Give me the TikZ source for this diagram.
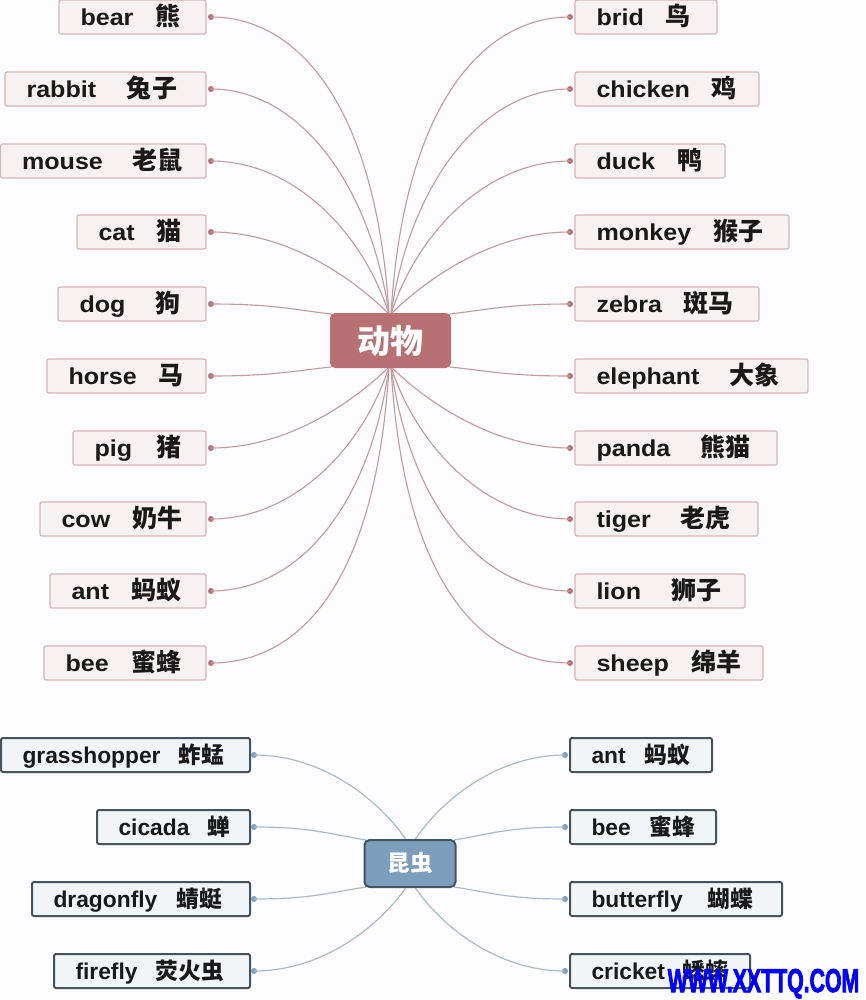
\documentclass[tikz,border=0pt]{standalone}
\usepackage{fontspec}
\usepackage{graphicx}
\setmainfont{Liberation Sans}
\newfontfamily\cjk{Noto Sans CJK SC}
\newfontfamily\widefont{Liberation Sans}[FakeStretch=1.09]
\newfontfamily\markfont{Liberation Sans}[FakeBold=3]
\definecolor{bgc}{HTML}{FDFCFE}
\definecolor{redline}{HTML}{C49A9C}
\definecolor{reddot}{HTML}{B87478}
\definecolor{redfill}{HTML}{F8F1F1}
\definecolor{redborder}{HTML}{D9B4B6}
\definecolor{redhub}{HTML}{B87173}
\definecolor{blueline}{HTML}{A9BBC9}
\definecolor{bluedot}{HTML}{7FA0BC}
\definecolor{bluefill}{HTML}{F2F5F8}
\definecolor{blueborder}{HTML}{43535F}
\definecolor{bluehub}{HTML}{7C9DBB}
\tikzset{
  leafbase/.style={rectangle,rounded corners=2pt,inner sep=0pt,minimum height=34pt,text height=22.5pt,text depth=5pt,text=black!90},
  redleaf/.style={leafbase,draw=redborder,fill=redfill,line width=1.2pt,font=\widefont\bfseries\fontsize{23}{28}\selectfont,execute at begin node={\def\lcj{\fontsize{25}{28}\selectfont}}},
  blueleaf/.style={leafbase,draw=blueborder,fill=bluefill,line width=2pt,font=\bfseries\fontsize{22.8}{28}\selectfont,execute at begin node={\def\lcj{}}},
  reddotst/.style={circle,fill=reddot,inner sep=0pt,minimum size=6pt},
  bluedotst/.style={circle,fill=bluedot,inner sep=0pt,minimum size=6pt},
  redlink/.style={draw=redline,line width=1.1pt},
  bluelink/.style={draw=blueline,line width=1.2pt},
}
% style, name, x1, x2, y, cjk right end, latin, cjk
\newcommand{\leafbox}[8]{%
  \pgfmathsetmacro\lfw{#4-#3}%
  \pgfmathsetmacro\lfc{(#3+#4)/2}%
  \pgfmathsetmacro\lfr{#4-#6}%
  \node[#1,minimum width=\lfw pt] (#2) at (\lfc,#5) {\makebox[\lfw pt][l]{\hspace*{21.5pt}#7\hfill{\cjk\lcj #8}\hspace*{\lfr pt}}};%
}
% arc link: style, dot style, dot name, x, y, hub coord, hx, hy, extra curvature
\newcommand{\linkto}[9]{%
  \pgfmathsetmacro\lkdx{#7-#4}%
  \pgfmathsetmacro\lkdy{#8-#5}%
  \pgfmathsetmacro\lkt{(abs(\lkdy)-82)/215}%
  \pgfmathsetmacro\lkax{(0.44+0.06*\lkt)*\lkdx}%
  \pgfmathsetmacro\lkbx{-(0.19-0.12*\lkt)*\lkdx}%
  \pgfmathsetmacro\lkby{-(0.41+0.28*\lkt+#9)*\lkdy}%
  \node[#2] (#3) at (#4,#5) {};%
  \draw[#1] (#3.center) .. controls +(\lkax,0) and +(\lkbx,\lkby) .. (#6);%
}
% flat link: style, dot style, dot name, x, y, hub coord, hx, hy
\newcommand{\flatlink}[8]{%
  \pgfmathsetmacro\lkdx{#7-#4}%
  \pgfmathsetmacro\lkdy{#8-#5}%
  \pgfmathsetmacro\lkax{0.5*\lkdx}%
  \pgfmathsetmacro\lkbx{-0.35*\lkdx}%
  \pgfmathsetmacro\lkby{-0.5*\lkdy}%
  \node[#2] (#3) at (#4,#5) {};%
  \draw[#1] (#3.center) .. controls +(\lkax,0) and +(\lkbx,\lkby) .. (#6);%
}
\begin{document}
\begin{tikzpicture}[x=1pt,y=-1pt]
\fill[bgc] (0,0) rectangle (865,1000);
\useasboundingbox (0,0) rectangle (865,1000);
% hub anchors
\coordinate (atl) at (389,314);
\coordinate (atr) at (391,314);
\coordinate (abl) at (389,367);
\coordinate (abr) at (391,367);
\coordinate (asw) at (331,367);
\coordinate (anw) at (331,314);
\coordinate (ase) at (450,367);
\coordinate (ane) at (450,314);
\coordinate (itl) at (407,841);
\coordinate (itr) at (414,841);
\coordinate (ibl) at (407,886);
\coordinate (ibr) at (414,886);
\coordinate (inw) at (366,840);
\coordinate (isw) at (366,887);
\coordinate (ine) at (454,840);
\coordinate (ise) at (454,887);
% animal links, left
\linkto{redlink}{reddotst}{d1}{211}{17}{atl}{389}{314}{0}
\linkto{redlink}{reddotst}{d2}{211}{89}{atl}{389}{314}{0}
\linkto{redlink}{reddotst}{d3}{211}{161}{atl}{389}{314}{0.04}
\linkto{redlink}{reddotst}{d4}{211}{232}{atl}{389}{314}{0}
\flatlink{redlink}{reddotst}{d5}{211}{304}{anw}{331}{314}
\flatlink{redlink}{reddotst}{d6}{211}{376}{asw}{331}{367}
\linkto{redlink}{reddotst}{d7}{211}{448}{abl}{389}{367}{0}
\linkto{redlink}{reddotst}{d8}{211}{519}{abl}{389}{367}{0.04}
\linkto{redlink}{reddotst}{d9}{211}{591}{abl}{389}{367}{0.04}
\linkto{redlink}{reddotst}{d10}{211}{663}{abl}{389}{367}{0.04}
% animal links, right
\linkto{redlink}{reddotst}{e1}{570}{17}{atr}{391}{314}{0}
\linkto{redlink}{reddotst}{e2}{570}{89}{atr}{391}{314}{0}
\linkto{redlink}{reddotst}{e3}{570}{161}{atr}{391}{314}{0.04}
\linkto{redlink}{reddotst}{e4}{570}{232}{atr}{391}{314}{0}
\flatlink{redlink}{reddotst}{e5}{570}{304}{ane}{450}{314}
\flatlink{redlink}{reddotst}{e6}{570}{376}{ase}{450}{367}
\linkto{redlink}{reddotst}{e7}{570}{448}{abr}{391}{367}{0}
\linkto{redlink}{reddotst}{e8}{570}{519}{abr}{391}{367}{0.04}
\linkto{redlink}{reddotst}{e9}{570}{591}{abr}{391}{367}{0.04}
\linkto{redlink}{reddotst}{e10}{570}{663}{abr}{391}{367}{0.04}
% insect links
\linkto{bluelink}{bluedotst}{f1}{254}{755}{itl}{407}{841}{0.08}
\flatlink{bluelink}{bluedotst}{f2}{254}{827}{inw}{366}{840}
\flatlink{bluelink}{bluedotst}{f3}{254}{899}{isw}{366}{887}
\linkto{bluelink}{bluedotst}{f4}{254}{971}{ibl}{407}{886}{0.08}
\linkto{bluelink}{bluedotst}{g1}{565}{755}{itr}{414}{841}{0.08}
\flatlink{bluelink}{bluedotst}{g2}{565}{827}{ine}{454}{840}
\flatlink{bluelink}{bluedotst}{g3}{565}{899}{ise}{454}{887}
\linkto{bluelink}{bluedotst}{g4}{565}{971}{ibr}{414}{886}{0.08}
% hubs
\node[rectangle,rounded corners=5pt,fill=redhub,minimum width=121pt,minimum height=55pt,inner sep=0pt,text=white,font=\cjk\bfseries\fontsize{33}{36}\selectfont] (animals) at (390.5,340.5) {动物};
\node[rectangle,rounded corners=5pt,fill=bluehub,draw=blueborder,line width=2pt,minimum width=91pt,minimum height=47pt,inner sep=0pt,text=white,font=\cjk\bfseries\fontsize{22.5}{26}\selectfont] (insects) at (410,863.5) {昆虫};
% left animal leaves
\leafbox{redleaf}{l1}{59}{206}{17}{180}{bear}{熊}
\leafbox{redleaf}{l2}{5}{206}{89}{177}{rabbit}{兔子}
\leafbox{redleaf}{l3}{0.6}{206}{161}{182}{mouse}{老鼠}
\leafbox{redleaf}{l4}{77}{206}{232}{181}{cat}{猫}
\leafbox{redleaf}{l5}{58}{206}{304}{180}{dog}{狗}
\leafbox{redleaf}{l6}{47}{206}{376}{183}{horse}{马}
\leafbox{redleaf}{l7}{73}{206}{448}{181}{pig}{猪}
\leafbox{redleaf}{l8}{40}{206}{519}{182}{cow}{奶牛}
\leafbox{redleaf}{l9}{50}{206}{591}{181}{ant}{蚂蚁}
\leafbox{redleaf}{l10}{44}{206}{663}{181}{bee}{蜜蜂}
% right animal leaves
\leafbox{redleaf}{r1}{575}{717}{17}{690}{brid}{鸟}
\leafbox{redleaf}{r2}{575}{759}{89}{736}{chicken}{鸡}
\leafbox{redleaf}{r3}{575}{725}{161}{702}{duck}{鸭}
\leafbox{redleaf}{r4}{575}{789}{232}{763}{monkey}{猴子}
\leafbox{redleaf}{r5}{575}{759}{304}{733}{zebra}{斑马}
\leafbox{redleaf}{r6}{575}{808}{376}{779}{elephant}{大象}
\leafbox{redleaf}{r7}{575}{777}{448}{750}{panda}{熊猫}
\leafbox{redleaf}{r8}{575}{758}{519}{730}{tiger}{老虎}
\leafbox{redleaf}{r9}{575}{745}{591}{721}{lion}{狮子}
\leafbox{redleaf}{r10}{575}{763}{663}{741}{sheep}{绵羊}
% insect leaves
\leafbox{blueleaf}{i1}{1}{250}{755}{224}{grasshopper}{蚱蜢}
\leafbox{blueleaf}{i2}{97}{250}{827}{230}{cicada}{蝉}
\leafbox{blueleaf}{i3}{32}{250}{899}{222}{dragonfly}{蜻蜓}
\leafbox{blueleaf}{i4}{54}{250}{971}{224}{firefly}{荧火虫}
\leafbox{blueleaf}{j1}{570}{712}{755}{690}{ant}{蚂蚁}
\leafbox{blueleaf}{j2}{570}{716}{827}{695}{bee}{蜜蜂}
\leafbox{blueleaf}{j3}{570}{782}{899}{753}{butterfly}{蝴蝶}
\leafbox{blueleaf}{j4}{570}{750}{971}{728}{cricket}{蟋蟀}
% watermark
\node[anchor=base,inner sep=0pt,text=blue,font=\markfont\bfseries\fontsize{33}{38}\selectfont] (wm) at (763.5,992) {\scalebox{0.645}[1]{WWW.XXTTQ.COM}};
\end{tikzpicture}
\end{document}
